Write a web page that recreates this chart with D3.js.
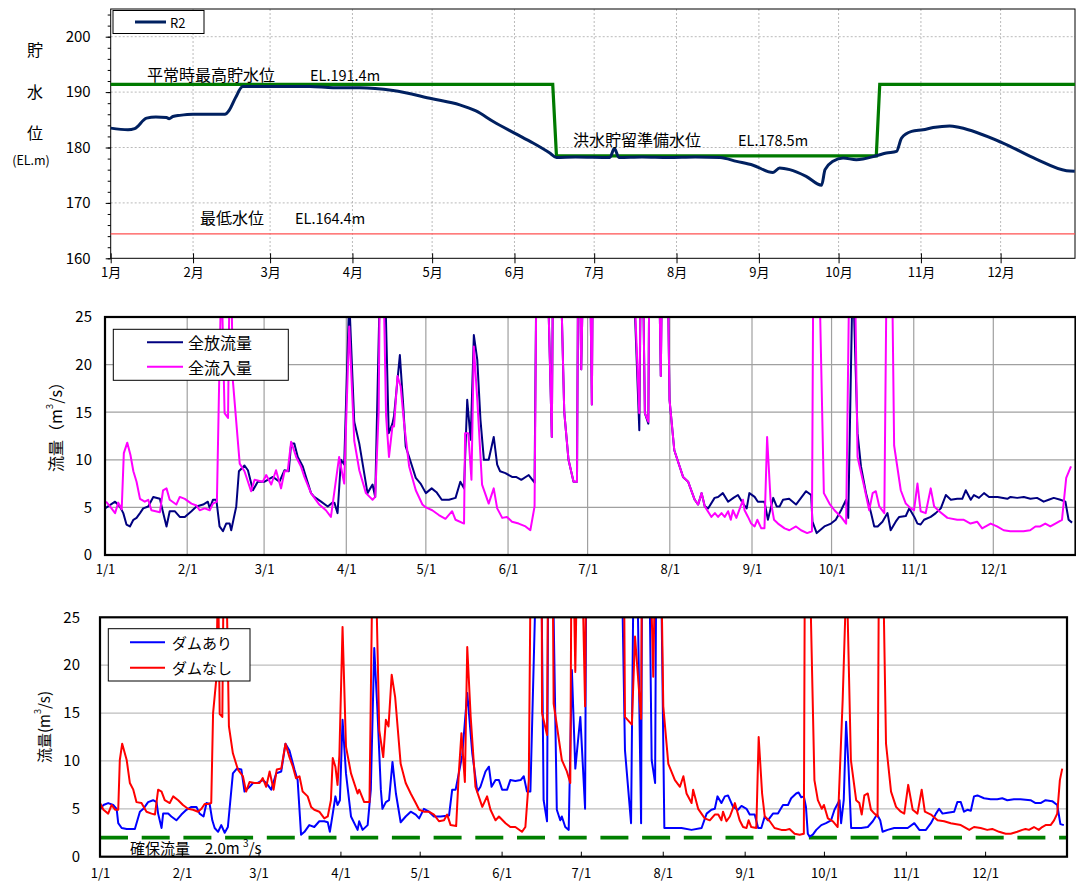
<!DOCTYPE html>
<html><head><meta charset="utf-8">
<script src="https://cdn.jsdelivr.net/npm/d3@7"></script>
<style>
body{margin:0;background:#fff;}
svg text{font-family:"Noto Sans CJK JP","Noto Sans",sans-serif;fill:#000;}
</style>
</head><body>
<svg id="c" width="1076" height="886"></svg>
<script>
// ---------- DATA ----------
const monthStarts = [0,31,60,91,121,152,182,213,244,274,305,335];
const monthLabelsJP = ["1月","2月","3月","4月","5月","6月","7月","8月","9月","10月","11月","12月"];
const monthLabelsMD = ["1/1","2/1","3/1","4/1","5/1","6/1","7/1","8/1","9/1","10/1","11/1","12/1"];
const levelTicks = [160,170,180,190,200];
const flowTicks = [0,5,10,15,20,25];

// 貯水位 R2 [day, EL.m]
const levelR2 = [[0,183.5],[6.5,183.2],[9,183.4],[13.5,185.3],[17,185.5],[21,185.4],[22,185.2],[23.4,185.6],[26,185.8],[31,186.0],[43,186.0],[44.7,186.8],[47,189],[49.7,191],[60,191.0],[75,191.0],[83.7,190.8],[90,190.8],[93.8,190.8],[106.3,190.3],[121,188.8],[131.4,187.7],[137.5,186.6],[144,184.7],[152,182.6],[159,180.8],[165.3,179.0],[167.8,178.2],[175,178.3],[187.9,178.2],[189.6,179.8],[191.3,178.2],[200,178.3],[210,178.2],[220,178.3],[229.4,178.2],[235.6,177.5],[241.8,176.8],[249.3,175.5],[251.8,176.3],[255.6,176.0],[261.8,174.8],[267.6,173.2],[268.9,176.0],[271.9,177.5],[275.7,178.1],[280.7,177.8],[288.2,178.5],[292,179.0],[295.8,179.3],[297.7,181.7],[301.5,182.9],[305.8,183.2],[309.6,183.6],[315.8,183.9],[319.6,183.6],[335.9,180.8],[348.4,177.9],[359.8,175.8],[362.9,175.7]];
// 管理水位 [day, EL.m]
const levelPlan = [[0,191.4],[166.4,191.4],[167.8,178.5],[288.2,178.5],[289.5,191.4],[363,191.4]];
const levelMin = 164.4;

// 全放流量 [day, m3/s]
const outflow = [[0,4.9],[3.8,5.6],[5.6,5.1],[6.9,4.4],[8.1,3.2],[9.4,3.0],[10.7,3.7],[11.9,3.9],[13.2,4.4],[14.4,4.9],[16.3,5.1],[18.2,6.1],[20.7,5.9],[21.7,4.7],[23.2,3.0],[24.4,4.6],[26.3,4.6],[28.2,4.0],[30.1,4.0],[32.6,4.6],[34.5,5.1],[37,5.3],[38.8,5.6],[39.5,4.9],[40.7,5.8],[42,5.8],[43.2,3.0],[44.5,2.5],[45.7,3.3],[47,3.3],[47.6,2.6],[49.5,5.1],[50.5,8.8],[52.6,9.4],[53.9,8.9],[55.8,6.8],[57.6,7.7],[60.2,7.7],[63.3,8.2],[65.8,7.7],[67.7,8.9],[69.3,8.8],[70.2,11.7],[71.4,11.7],[72.7,10.3],[74.6,9.3],[75.8,8.2],[77.7,6.5],[78.9,6.1],[81.5,5.6],[84,5.1],[85.8,5.5],[86.5,5.5],[87.7,4.4],[89,10.0],[90.2,9.5],[92.1,27],[94,14],[95.9,11.7],[99,6.5],[100.9,7.4],[101.9,6.1],[103.4,25],[104.3,40],[105.5,30],[107,12.8],[108.4,13.8],[109,14.6],[111.2,21],[112.4,16],[113.4,11.4],[114.7,10.3],[117.2,8.1],[119,7.5],[121,6.5],[123.2,7.0],[125,6.6],[127,5.8],[129.7,5.8],[132.2,6.0],[134,7.7],[135.4,7.0],[136.6,16.3],[137.9,12.1],[139.1,23.1],[140.4,20.5],[141.6,14.2],[142.9,10.0],[144.7,10.0],[146.6,12.4],[147.9,9.5],[149,8.8],[151,8.6],[153.5,8.2],[155,8.2],[157,7.9],[159.8,8.4],[162,7.6],[163,40],[166,40],[168.5,12.4],[169.2,40],[171.7,40],[172.3,25],[173.2,15],[174.8,10.0],[176.7,7.7],[178,7.7],[178.6,40],[179.6,19.5],[181,40],[182.5,40],[183.6,15.8],[184.2,40],[190,40],[197.9,40],[201.5,13.1],[202.4,40],[203.6,14.9],[204.9,13.8],[205.5,40],[208.4,40],[209.6,18.8],[210.5,40],[211.7,40],[212.9,16.3],[214.7,11.0],[218,8.2],[219.9,7.7],[222.4,5.8],[223.7,5.3],[225,6.5],[226.2,5.1],[227.5,4.9],[229.9,6.0],[231.2,6.1],[233,6.5],[235,5.6],[237,6.0],[238.7,6.3],[240.6,5.4],[242,4.9],[243,6.5],[245,6.1],[246.2,5.6],[248.7,5.6],[250,3.7],[250.6,4.4],[252,6.0],[253.3,5.1],[254.4,5.1],[255.7,5.8],[258,5.9],[260.6,5.3],[262.5,6.0],[264.4,6.7],[266.3,6.3],[266.8,3.5],[268.4,2.3],[271.3,3.0],[273.8,3.3],[275.6,3.7],[277.6,4.7],[279.5,5.8],[280.3,3.9],[282,30],[283.8,12.8],[285.1,9.3],[287,6.5],[288.9,4.4],[290.1,3.0],[291.4,3.0],[293.2,3.5],[295.1,4.4],[296.3,2.6],[298.2,3.5],[299.5,4.0],[302,4.1],[303.3,4.9],[305.2,4.0],[306.4,3.3],[307.6,3.2],[308.9,3.7],[311.4,4.0],[313.3,4.4],[315.2,4.9],[317.1,6.3],[319,5.8],[321.4,5.9],[323.3,5.9],[324.6,6.8],[326.5,5.8],[327.7,6.3],[329.6,6.0],[331.5,6.5],[333.4,6.1],[336.6,6.1],[340.3,5.9],[341.5,6.1],[344,6.0],[346.5,6.1],[349,5.9],[351.5,6.0],[354,5.6],[355.9,5.8],[357.8,6.0],[360.3,5.8],[362.2,5.6],[363.4,3.7],[364.7,3.4]];

// 全流入量 [day, m3/s]
const inflow = [[0.4,5.6],[1.9,5.1],[3.8,4.4],[5,5.5],[6.3,4.8],[7.1,10.7],[8.4,11.8],[9.6,10.5],[10.7,8.8],[11.9,7.7],[13.2,5.9],[15,5.6],[16.3,5.8],[17.5,4.7],[20.7,4.5],[21.9,6.8],[23.2,7.0],[24.4,5.8],[26.9,5.3],[28.2,6.1],[30.1,5.9],[32.6,5.4],[34.5,5.2],[35.7,4.7],[37.6,4.9],[39.5,4.7],[40.7,5.4],[42.2,5.6],[43,17.4],[43.9,30],[45.1,14.9],[46.4,14.4],[47,30],[47.6,30],[48.2,18.4],[50.8,9.6],[52.6,8.8],[55.1,6.7],[56.4,7.9],[59.5,7.7],[60.8,8.4],[62.7,7.4],[64.5,8.9],[66.4,7.0],[67.7,8.8],[68.9,8.8],[70.2,11.9],[72.1,10.3],[73.9,9.3],[75.2,8.2],[77.7,6.5],[80.8,5.3],[83.3,4.7],[85.2,4.0],[88.3,10.3],[90.2,7.5],[92.1,24],[94,12],[95.9,8.9],[98.4,6.5],[100.9,5.8],[101.9,6.1],[103.2,15],[104,40],[105.3,25],[106,14.6],[107.1,10.3],[108.4,13.5],[109,13.5],[110.3,18.8],[111.5,17.7],[112.8,13.8],[114.7,9.3],[117.2,6.8],[119.7,5.3],[121,5.0],[123.4,4.7],[125.9,4.2],[128.4,3.8],[130.9,4.6],[132.2,3.7],[135.4,3.3],[135.8,12.8],[137,12.8],[138.2,7.9],[139.1,21.9],[140.4,16.3],[142.2,7.4],[144.7,5.4],[146.6,7.0],[147.9,4.9],[149.8,3.9],[151.6,4.0],[153.5,3.5],[156,3.3],[158.6,3.0],[160.4,2.6],[162,5.1],[163,40],[166,40],[168.5,12.4],[169.2,40],[171.7,40],[172.3,25],[173.2,15],[174.8,10.0],[176.7,7.7],[178,7.7],[178.6,40],[179.6,19.5],[181,40],[182.5,40],[183.6,15.8],[184.2,40],[190,40],[197.9,40],[201.5,14.9],[202.4,40],[203.6,14.9],[204.9,14.0],[205.5,40],[208.4,40],[209.6,18.8],[210.5,40],[211.7,40],[212.9,16.3],[214.7,11.0],[218,8.2],[219.9,7.7],[222.4,5.8],[223.7,5.3],[225,6.5],[226.2,5.1],[228.7,4.0],[230,4.4],[231.2,4.0],[232.5,4.4],[233.7,4.0],[235,4.6],[236,3.7],[236.8,4.7],[238.1,3.9],[240.6,5.8],[241.2,4.7],[242.5,4.0],[243.7,3.3],[245,3.0],[246,3.7],[247.5,2.8],[248.7,2.8],[249.7,12.4],[251,5.8],[252.3,3.7],[253.8,3.3],[256.3,2.8],[258.1,2.6],[260.6,3.0],[262.5,2.6],[264.8,2.3],[266.6,2.5],[267.3,40],[268.6,40],[271.1,6.5],[273.2,5.4],[275.1,4.7],[277.6,4.0],[279.5,3.3],[280.7,30],[282,40],[282.8,30],[283.8,10.3],[286.3,7.2],[288.2,4.7],[289.5,6.5],[290.7,6.7],[292,5.1],[293.9,4.4],[295.1,40],[296.4,40],[297.6,11.5],[300.1,6.8],[302,5.4],[303.9,4.9],[305.1,4.7],[306.4,7.5],[307.6,4.6],[309.5,4.4],[311.4,7.0],[312.7,5.1],[314.6,4.6],[317.7,3.9],[321.4,3.7],[323.9,3.7],[326.4,3.3],[328.9,3.5],[330.8,2.8],[334,3.3],[336.4,3.0],[338.9,2.6],[341.4,2.5],[343.9,2.5],[346.4,2.5],[348.9,2.6],[350.9,3.0],[352.7,3.0],[354.6,3.3],[356.5,3.0],[358.4,3.3],[360.9,3.7],[362.5,8.1],[364.3,9.3]];

// ダムあり [day, m3/s]
const withDam = [[0,4.9],[1.3,5.4],[3.1,5.6],[5,5.4],[6.3,5.0],[6.9,3.5],[8.2,3.0],[10.1,2.9],[13.2,2.9],[15.1,4.7],[16.4,5.0],[18.2,5.7],[20.1,5.9],[21.4,5.7],[22,4.5],[23.3,3.0],[23.9,4.5],[25.8,4.5],[27,4.2],[28.9,3.8],[30.8,4.4],[32.7,4.9],[34.6,5.2],[36.5,5.2],[37.7,4.5],[39.2,4.2],[40.3,5.6],[41.5,5.5],[42.5,3.8],[43.4,3.0],[44.7,2.6],[45.9,3.3],[47.2,2.5],[48.4,3.1],[50.3,8.7],[51.8,9.2],[53.5,9.1],[54.7,6.8],[56.6,7.3],[57.9,7.7],[59.7,7.7],[61.6,8.0],[62.9,7.7],[64.8,7.0],[66.7,8.7],[68.6,8.9],[70.2,11.8],[71.7,11.1],[73.6,9.1],[74.8,8.0],[76.1,2.3],[77.4,2.6],[79.2,3.3],[81.1,3.1],[83,3.7],[84.9,3.7],[86.2,3.6],[87,2.6],[88.1,4.5],[89.1,6.3],[89.9,5.4],[90.8,5.9],[91.8,14.3],[93.1,8.7],[95,4.2],[97.5,2.8],[98.1,3.7],[99.4,2.8],[101.3,3.3],[102.5,7.0],[103.8,21.8],[105,15.3],[106.3,7.0],[106.9,5.0],[108.2,5.7],[109.4,5.9],[110.7,9.9],[112,6.6],[113.8,3.6],[115.7,4.2],[117.6,4.7],[119.5,4.4],[120.8,4.0],[122.6,5.0],[124.5,4.7],[126.4,4.2],[128.9,4.2],[132.1,4.3],[133.3,7.0],[134.6,7.0],[135.8,8.7],[137.1,10.6],[139,17.1],[140.9,10.8],[142.8,6.8],[144,7.3],[145.9,8.9],[147.2,9.4],[148.2,7.3],[149.7,8.0],[151,8.0],[152.2,7.0],[154.1,7.0],[155.3,8.0],[157.2,7.9],[159.2,8.0],[160.4,8.4],[161.6,6.8],[162.9,6.8],[166,40],[166.7,40],[167.9,5.9],[169.2,3.7],[169.8,40],[170.8,40],[172.9,4.9],[174.2,3.8],[174.8,4.2],[176.1,3.1],[177.4,2.8],[178.6,19.5],[179.9,9.2],[181.8,14.6],[183.6,5.0],[184.2,40],[196.9,40],[198.7,11.1],[201,3.5],[202.3,40],[202.8,40],[204.8,3.5],[205.3,40],[207.5,40],[208.8,10.1],[210.1,7.7],[210.7,40],[211.9,40],[213.6,3.0],[216.4,3.0],[220.1,3.0],[223.9,2.8],[227.7,3.0],[229.6,4.5],[231.4,4.9],[232.7,5.0],[233.7,6.3],[235.2,5.6],[236.5,6.3],[237.7,6.4],[239.6,5.2],[241.5,4.9],[242.8,5.3],[244.7,5.0],[245.9,4.4],[247.8,4.4],[249.1,3.0],[250.3,3.0],[251.6,4.2],[252.8,3.8],[254.7,4.5],[256.6,4.5],[258.5,5.4],[260.4,5.4],[261.6,6.1],[263.5,6.6],[264.4,6.7],[265.4,6.2],[266.4,6.3],[267.2,5.2],[267.9,2.4],[268.6,2.1],[269.8,2.3],[271.1,2.8],[273,3.3],[274.8,3.5],[276.7,3.8],[278,4.9],[279.9,5.9],[280.5,3.5],[281.5,5.9],[282.4,14.1],[283.3,9.4],[284.3,3.0],[288.1,3.0],[290.6,3.1],[292.5,3.7],[294.1,4.4],[295.3,3.8],[296.2,2.6],[298.1,2.8],[300.6,3.0],[303.1,3.0],[305.7,3.0],[308.2,3.5],[310.1,2.8],[312.6,2.8],[314.5,3.5],[316.4,4.5],[317.6,5.0],[318.9,4.5],[320.8,4.6],[323.3,4.7],[324.5,5.7],[325.8,5.7],[327,4.7],[328.3,4.9],[329.6,4.8],[330.8,6.3],[332.1,6.4],[334.6,6.1],[337.1,6.0],[339.6,6.0],[341.5,6.1],[343.4,5.9],[345.9,6.0],[348.4,6.0],[352.2,5.9],[354.1,5.6],[356,5.6],[357.9,5.9],[360.4,5.8],[362.3,5.4],[363.5,3.4],[364.8,3.3]];

// ダムなし [day, m3/s]
const withoutDam = [[0,5.6],[1.3,4.9],[3.1,4.5],[4.4,5.4],[5.7,4.9],[6.9,4.9],[7.5,10.1],[8.4,11.8],[10.1,10.1],[11.3,7.7],[12.6,7.0],[13.8,5.7],[15.7,5.6],[17.6,4.7],[19.5,4.5],[20.8,4.4],[22,7.0],[23.3,6.8],[24.5,5.9],[26.4,5.6],[27.7,6.3],[29.6,5.9],[31.4,5.4],[33.3,5.0],[35.2,4.9],[37.1,4.7],[38.4,5.0],[39.6,5.5],[40.9,5.5],[42.1,5.6],[42.8,15.0],[44,18.5],[44.7,30],[45.3,14.9],[46.3,14.6],[46.8,30],[47.8,30],[48.8,13.6],[50.3,10.8],[52.2,9.1],[54.1,8.4],[55.3,6.8],[56.6,7.8],[58.5,7.7],[60.4,7.7],[61.6,8.2],[62.9,7.3],[64.2,8.9],[65.7,7.0],[66.9,9.1],[68.6,9.2],[70.2,11.8],[71.7,10.4],[73,9.4],[74.2,8.2],[75.5,8.4],[76.7,6.8],[78.6,6.3],[79.9,5.2],[81.1,4.9],[83,4.7],[84.9,4.0],[86.2,4.2],[87.4,5.9],[88.1,10.3],[89.1,9.4],[89.9,7.5],[90.6,10.6],[91.8,24.0],[93.1,11.5],[95,8.7],[97.5,6.6],[98.1,7.0],[100,5.7],[102,5.7],[103.1,30],[104.4,30],[105.7,13.2],[107.2,10.4],[108.2,14.3],[109.2,13.6],[110.4,19.0],[111.7,16.7],[113.8,9.7],[115.7,7.7],[117.6,6.6],[119.5,5.6],[120.8,4.9],[122.6,4.7],[124.5,4.7],[126.4,4.4],[128.3,3.7],[130.2,3.8],[131.4,4.4],[132.7,3.3],[134.8,3.2],[135.8,8.7],[136.8,12.9],[138.1,7.8],[139,21.9],[140.3,14.6],[142.1,7.3],[144.7,5.2],[146.5,6.3],[147.8,4.9],[149.7,3.8],[151,4.2],[153.5,3.5],[155.3,3.1],[157.2,3.1],[159.7,2.6],[161,3.1],[162.3,8.0],[163.3,40],[167.1,40],[167.3,15.0],[169.2,12.7],[169.8,40],[171.1,40],[171.7,16.0],[174.8,10.1],[176.7,8.9],[178,7.7],[178.6,40],[179.9,19.3],[181.1,40],[181.8,40],[183.6,15.7],[184.2,40],[198.1,40],[198.7,14.6],[201.3,13.8],[202.5,23.0],[204.8,14.4],[205.3,40],[207.5,40],[209.4,18.8],[210.7,40],[211.9,40],[213.2,15.7],[215.1,9.7],[217.6,8.0],[219.5,7.3],[220.8,8.4],[222,6.6],[223.9,5.6],[224.5,7.0],[226.4,5.0],[228.9,4.0],[230.8,3.8],[232.7,4.4],[234,4.4],[235.2,3.8],[235.8,4.7],[237.1,3.7],[238.4,4.2],[240.3,5.6],[242.1,3.8],[243.4,3.1],[244.7,3.0],[245.5,3.8],[246.5,3.1],[248.4,3.0],[249.3,12.5],[250.6,6.6],[251.6,4.2],[253.5,3.7],[255.3,3.0],[257.9,2.8],[259.7,2.8],[261,2.9],[262.9,2.4],[264.8,2.3],[266.4,2.4],[266.9,40],[267.9,40],[270.4,8.0],[271.7,5.9],[273.2,5.0],[274,5.4],[275.5,4.0],[277.4,3.7],[279.2,3.1],[281.1,16.4],[282.6,30],[284.2,10.1],[286.2,5.9],[287.4,5.6],[288.3,4.4],[289.3,6.4],[290.6,6.6],[291.8,4.9],[293.1,4.5],[294.3,4.2],[295,40],[295.8,40],[297.5,11.8],[299.4,6.8],[301.3,5.2],[303.1,4.7],[304.4,4.5],[305.9,7.5],[307.6,4.9],[309.4,4.5],[311,7.0],[312.2,4.7],[314.5,4.4],[317,3.8],[319.5,3.7],[322,3.5],[325.8,3.3],[329,2.8],[330.8,3.1],[333.3,3.0],[335.8,2.8],[337.7,2.9],[340.3,2.6],[342.8,2.4],[344.7,2.4],[347.2,2.6],[349.1,2.8],[350.3,2.9],[351.6,2.8],[353.5,3.1],[355.3,2.8],[356.6,3.1],[357.9,3.3],[359.8,3.3],[361.1,3.8],[362.3,4.5],[363.3,8.0],[364.2,9.2]];

const securedFlow = 2.0;

// ---------- DRAW ----------
const svg = d3.select("#c");
const FONT = '"Noto Sans CJK JP","Noto Sans",sans-serif';

// ===== Top panel =====
(function(){
  const L=110.7, R=1075, T=9, B=258.3;
  const x = d3.scaleLinear().domain([0,363]).range([L,R]);
  const y = d3.scaleLinear().domain([160,205]).range([B,T]);
  const g = svg.append("g");
  // grid
  g.selectAll(".gh").data(levelTicks.slice(1)).join("line")
    .attr("x1",L).attr("x2",R).attr("y1",d=>y(d)).attr("y2",d=>y(d))
    .attr("stroke","#a8a8a8").attr("stroke-width",0.8).attr("stroke-dasharray","2,2");
  g.selectAll(".gv").data(monthStarts.slice(1)).join("line")
    .attr("x1",d=>x(d)).attr("x2",d=>x(d)).attr("y1",T).attr("y2",B)
    .attr("stroke","#a8a8a8").attr("stroke-width",0.8).attr("stroke-dasharray","2,2");
  // frame
  g.append("rect").attr("x",L).attr("y",T).attr("width",R-L).attr("height",B-T)
    .attr("fill","none").attr("stroke","#000").attr("stroke-width",1);
  // min level
  g.append("line").attr("x1",L).attr("x2",R).attr("y1",y(levelMin)).attr("y2",y(levelMin))
    .attr("stroke","#ff5050").attr("stroke-width",1.3);
  const line = d3.line().x(d=>x(d[0])).y(d=>y(d[1]));
  g.append("path").datum(levelPlan).attr("d",line).attr("fill","none")
    .attr("stroke","#007a00").attr("stroke-width",3.2);
  g.append("path").datum(levelR2).attr("d",line.curve(d3.curveMonotoneX)).attr("fill","none")
    .attr("stroke","#002060").attr("stroke-width",3).attr("stroke-linejoin","round");
  // y axis
  const ya = g.append("g").attr("transform",`translate(${L},0)`)
    .call(d3.axisLeft(y).tickValues(levelTicks).tickSize(5).tickPadding(15).tickFormat(d3.format("d")));
  ya.select(".domain").remove();
  ya.selectAll("text").style("font-family",FONT).style("font-size","15px");
  const ym = g.append("g").attr("transform",`translate(${L},0)`)
    .call(d3.axisLeft(y).tickValues(d3.range(160,206,2)).tickSize(3).tickFormat(""));
  ym.select(".domain").remove();
  // x axis
  const xa = g.append("g").attr("transform",`translate(0,${B})`)
    .call(d3.axisBottom(x).tickValues(monthStarts).tickSize(5).tickPadding(4).tickFormat((d,i)=>monthLabelsJP[i]));
  xa.select(".domain").remove();
  xa.selectAll("text").style("font-family",FONT).style("font-size","13px");
  const xb = g.append("g").attr("transform",`translate(0,${B})`)
    .call(d3.axisBottom(x).tickValues(monthStarts).tickSize(-5).tickFormat(""));
  xb.select(".domain").remove();
  // labels
  const t = (txt,xx,yy,fs)=>g.append("text").attr("x",xx).attr("y",yy).attr("dominant-baseline","central")
      .style("font-size",fs+"px").text(txt);
  t("平常時最高貯水位",147,74,16); t("EL.191.4m",310,74,14.5);
  t("洪水貯留準備水位",573,139,16); t("EL.178.5m",738,139,14.5);
  t("最低水位",200,217,16); t("EL.164.4m",295,217,14.5);
  [["貯",49],["水",91],["位",132]].forEach(([c,yy])=>g.append("text").attr("x",35).attr("y",yy)
      .attr("text-anchor","middle").attr("dominant-baseline","central").style("font-size","16px").text(c));
  g.append("text").attr("x",31).attr("y",159).attr("text-anchor","middle").attr("dominant-baseline","central")
    .style("font-size","12.5px").text("(EL.m)");
  // legend
  g.append("rect").attr("x",113).attr("y",10.5).attr("width",91).attr("height",23)
    .attr("fill","#fff").attr("stroke","#000").attr("stroke-width",1);
  g.append("line").attr("x1",135).attr("x2",166).attr("y1",22).attr("y2",22)
    .attr("stroke","#002060").attr("stroke-width",3);
  g.append("text").attr("x",170).attr("y",22).attr("dominant-baseline","central").style("font-size","13px").text("R2");
})();

// ===== Flow panels =====
function flowPanel(o){
  const {L,R,T,B} = o;
  const x = d3.scaleLinear().domain([0,366]).range([L,R]);
  const y = d3.scaleLinear().domain([0,25]).range([B,T]);
  const g = svg.append("g");
  const cid = "clip"+o.id;
  g.append("clipPath").attr("id",cid).append("rect").attr("x",L).attr("y",T).attr("width",R-L).attr("height",B-T);
  g.selectAll(".gh").data(flowTicks.slice(1,-1)).join("line")
    .attr("x1",L).attr("x2",R).attr("y1",d=>y(d)).attr("y2",d=>y(d))
    .attr("stroke",o.gridColor).attr("stroke-width",1.2);
  if(o.vgrid){
    g.selectAll(".gv").data(monthStarts.slice(1)).join("line")
      .attr("x1",d=>x(d)).attr("x2",d=>x(d)).attr("y1",T).attr("y2",B)
      .attr("stroke",o.gridColor).attr("stroke-width",1.2);
  }
  const cg = g.append("g").attr("clip-path",`url(#${cid})`);
  if(o.dashed!==undefined){
    cg.append("line").attr("x1",L).attr("x2",R).attr("y1",y(o.dashed)).attr("y2",y(o.dashed))
      .attr("stroke","#008000").attr("stroke-width",3.8).attr("stroke-dasharray","28,13.7");
  }
  const line = d3.line().x(d=>x(d[0])).y(d=>y(d[1]));
  o.series.forEach(s=>{
    cg.append("path").datum(s.data).attr("d",line).attr("fill","none")
      .attr("stroke",s.color).attr("stroke-width",2).attr("stroke-linejoin","round");
  });
  g.append("rect").attr("x",L).attr("y",T).attr("width",R-L).attr("height",B-T)
    .attr("fill","none").attr("stroke","#000").attr("stroke-width",2.2);
  const ya = g.append("g").attr("transform",`translate(${L},0)`)
    .call(d3.axisLeft(y).tickValues(flowTicks).tickSize(0).tickPadding(o.ypad));
  ya.select(".domain").remove();
  ya.selectAll("text").style("font-family",FONT).style("font-size","15px");
  const xa = g.append("g").attr("transform",`translate(0,${B})`)
    .call(d3.axisBottom(x).tickValues(monthStarts).tickSize(0).tickPadding(o.xpad).tickFormat((d,i)=>monthLabelsMD[i]));
  xa.select(".domain").remove();
  xa.selectAll("text").style("font-family",FONT).style("font-size","13px");
  if(o.innerTicks){
    const xb = g.append("g").attr("transform",`translate(0,${B})`)
      .call(d3.axisBottom(x).tickValues(monthStarts).tickSize(-5).tickFormat(""));
    xb.select(".domain").remove();
  }
  // legend
  const lg = o.legend;
  g.append("rect").attr("x",lg.x).attr("y",lg.y).attr("width",lg.w).attr("height",lg.h)
    .attr("fill","#fff").attr("stroke","#000").attr("stroke-width",1);
  o.series.forEach((s,i)=>{
    const yy = lg.y + lg.first + i*lg.step;
    g.append("line").attr("x1",lg.lx1).attr("x2",lg.lx2).attr("y1",yy).attr("y2",yy)
      .attr("stroke",s.color).attr("stroke-width",2);
    g.append("text").attr("x",lg.tx).attr("y",yy).attr("dominant-baseline","central")
      .style("font-size",lg.fs+"px").text(s.name);
  });
  // y title
  const yt = g.append("text").attr("transform",`translate(${o.title.x},${o.title.y}) rotate(-90)`)
    .attr("text-anchor","middle").attr("dominant-baseline","central").style("font-size",o.title.fs+"px");
  yt.append("tspan").text(o.title.a);
  yt.append("tspan").attr("dy",-6).style("font-size",(o.title.fs*0.6)+"px").text("3");
  yt.append("tspan").attr("dy",6).text(o.title.b);
  return {g,x,y};
}

flowPanel({id:"m",L:105,R:1075.5,T:317,B:555,gridColor:"#a0a0a0",vgrid:true,ypad:13,xpad:10,
  series:[{name:"全放流量",color:"#000080",data:outflow},{name:"全流入量",color:"#ff00ff",data:inflow}],
  legend:{x:113.3,y:329.3,w:175,h:51,first:13,step:24.5,lx1:147,lx2:183,tx:188,fs:16},
  title:{x:55,y:423,fs:16,a:"流量（m",b:"/s）"}});

const bot = flowPanel({id:"b",L:100,R:1067,T:617.3,B:856.7,gridColor:"#bdbdbd",vgrid:false,ypad:20,xpad:12,innerTicks:true,
  dashed:securedFlow,
  series:[{name:"ダムあり",color:"#0000ff",data:withDam},{name:"ダムなし",color:"#ff0000",data:withoutDam}],
  legend:{x:108.3,y:628.7,w:141.7,h:52.3,first:13.6,step:25.4,lx1:130,lx2:165,tx:172,fs:15},
  title:{x:43,y:727,fs:15,a:"流量(m",b:"/s)"}});

const lab = bot.g.append("text").attr("x",130).attr("y",847).attr("dominant-baseline","central").style("font-size","15px");
lab.append("tspan").text("確保流量　2.0m ");
lab.append("tspan").attr("dy",-5).style("font-size","10px").text("3");
lab.append("tspan").attr("dy",5).text("/s");
</script>
</body></html>
